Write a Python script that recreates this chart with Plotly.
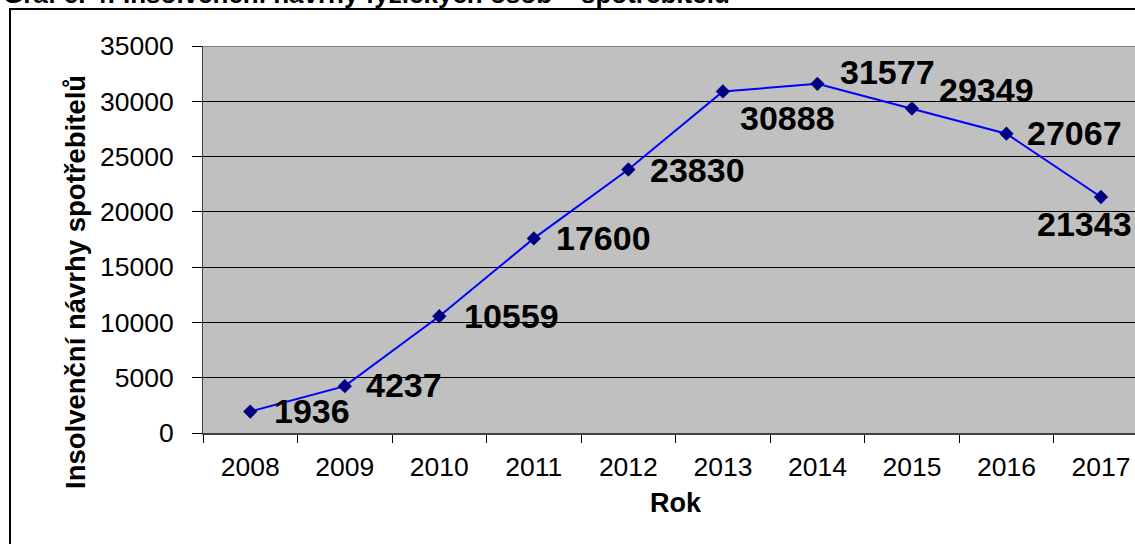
import plotly.graph_objects as go

years = ["2008", "2009", "2010", "2011", "2012", "2013", "2014", "2015", "2016", "2017"]
values = [1936, 4237, 10559, 17600, 23830, 30888, 31577, 29349, 27067, 21343]
y_ticks = [0, 5000, 10000, 15000, 20000, 25000, 30000, 35000]

title_text = "Graf č. 4: Insolvenční návrhy fyzických osob – spotřebitelů"
x_title = "Rok"
y_title = "Insolvenční návrhy spotřebitelů"

# label offsets in pixels (style)
label_dx = [62, 59, 72, 70, 69, 65, 70, 75, 68, -16]
label_dy = [1, 1, 0, 0, 0, -27, 12, 18, 1, -27]

W, H = 1135, 544
L, T, B = 203, 46, 111
pw, ph = W - L, H - T - B

def px(x):
    return (x - L) / pw

def py(y):
    return (H - B - y) / ph

FONT = "Liberation Sans, Arial"

fig = go.Figure()
fig.add_trace(go.Scatter(
    x=years, y=values, mode="lines+markers",
    line=dict(color="#0000FF", width=2),
    marker=dict(symbol="diamond", size=11, color="#000080"),
    showlegend=False, cliponaxis=False,
))

for i, (v, dx, dy) in enumerate(zip(values, label_dx, label_dy)):
    fig.add_annotation(x=i, y=v, text=str(v), showarrow=False,
                       xanchor="center", yanchor="middle",
                       xshift=dx, yshift=dy,
                       font=dict(family=FONT, size=34, color="#000000", weight="bold"))

fig.add_annotation(xref="paper", yref="paper", x=px(676), y=py(503), text=x_title,
                   xanchor="center", yanchor="middle",
                   showarrow=False, font=dict(family=FONT, size=27, color="#000000", weight="bold"))
fig.add_annotation(xref="paper", yref="paper", x=px(75), y=py(282), text=y_title, textangle=-90,
                   xanchor="center", yanchor="middle",
                   showarrow=False, font=dict(family=FONT, size=27.5, color="#000000", weight="bold"))
fig.add_annotation(xref="paper", yref="paper", x=px(1), y=py(-6), xanchor="left", yanchor="middle",
                   text=title_text, showarrow=False,
                   font=dict(family=FONT, size=26, color="#000000", weight="bold"))

# white band hiding the title's lower part (page crop in the original)
fig.add_shape(type="rect", xref="paper", yref="paper", x0=px(0), x1=px(770), y0=py(8.5), y1=py(5),
              line=dict(width=0), fillcolor="#FFFFFF", layer="above")
# outer frame
fig.add_shape(type="rect", xref="paper", yref="paper", x0=px(10), x1=px(1160), y0=py(600), y1=py(9),
              line=dict(color="#000000", width=2), fillcolor="rgba(0,0,0,0)", layer="above")
# top border of plot area
fig.add_shape(type="line", xref="paper", yref="y", x0=0, x1=1, y0=35000, y1=35000,
              line=dict(color="#808080", width=2))

fig.update_layout(
    width=W, height=H,
    margin=dict(l=L, r=0, t=T, b=B),
    paper_bgcolor="#FFFFFF", plot_bgcolor="#C0C0C0",
    font=dict(family=FONT, color="#000000"),
)
fig.update_xaxes(
    type="category", range=[-0.5, 9.36], tickson="boundaries",
    ticks="outside", ticklen=8, tickcolor="#000000", tickwidth=1,
    showline=True, linecolor="#404040", linewidth=2,
    showgrid=False, tickfont=dict(size=26.5, color="#000000"),
    ticklabelstandoff=9,
)
fig.update_yaxes(
    range=[0, 35000], tickvals=y_ticks, ticktext=[str(t) for t in y_ticks],
    ticks="outside", ticklen=10, tickcolor="#000000", tickwidth=1,
    showline=True, linecolor="#404040", linewidth=1,
    showgrid=True, gridcolor="#000000", gridwidth=1, zeroline=False,
    tickfont=dict(size=26.5, color="#000000"), ticklabelstandoff=13,
)

fig.write_html("out.html", config={"displayModeBar": False},
               post_script="document.body.style.margin='0';")
